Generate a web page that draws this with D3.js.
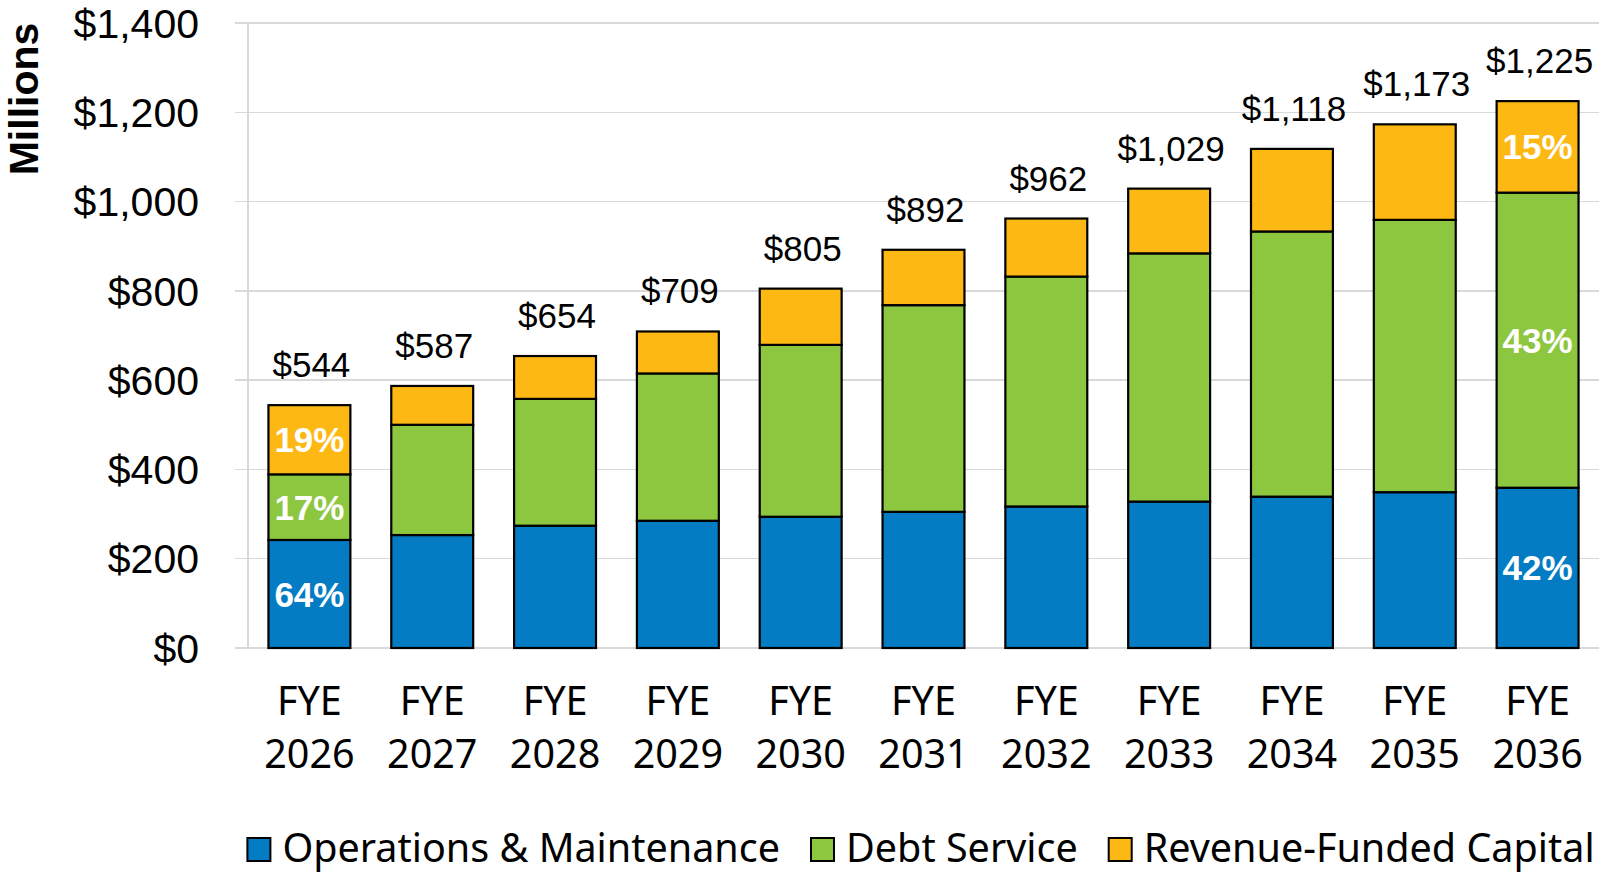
<!DOCTYPE html>
<html lang="en">
<head>
  <meta charset="UTF-8">
  <title>Stacked Revenue Requirement</title>
  <script src="https://d3js.org/d3.v7.min.js"></script>
  <style>
    body {
      margin: 0;
      background-color: #fff;
    }
    .grid line {
      stroke: #d9d9d9;
      stroke-width: 1.5px;
      shape-rendering: crispEdges;
    }
    .ytick {
      font-family: "Liberation Sans", Arial, sans-serif;
      font-size: 41px;
      fill: #000;
    }
    .xtick {
      font-family: "Noto Sans", sans-serif;
      font-size: 39.5px;
      fill: #000;
    }
    .total {
      font-family: "Liberation Sans", Arial, sans-serif;
      font-size: 35px;
      fill: #000;
    }
    .pct {
      font-family: "Liberation Sans", Arial, sans-serif;
      font-size: 35px;
      font-weight: bold;
      fill: #fff;
    }
    .legend text {
      font-family: "Noto Sans", sans-serif;
      font-size: 39.5px;
      fill: #000;
    }
  </style>
</head>
<body>
  <svg width="1606" height="876"></svg>

  <script>
    const years = ["2026", "2027", "2028", "2029", "2030", "2031", "2032", "2033", "2034", "2035", "2036"];
    const seriesNames = ["Operations & Maintenance", "Debt Service", "Revenue-Funded Capital"];
    const operations = [242, 253, 274, 285, 294, 305, 317, 328, 339, 349, 359];
    const debtService = [147, 247, 284, 330, 385, 463, 515, 556, 594, 610, 661];
    const revenueCapital = [155, 87, 96, 94, 126, 124, 130, 145, 185, 214, 205];
    const totalLabels = ["$544", "$587", "$654", "$709", "$805", "$892", "$962", "$1,029", "$1,118", "$1,173", "$1,225"];
    // share labels shown only on the first and last bars
    const shareLabels = {
      "2026": ["64%", "17%", "19%"],
      "2036": ["42%", "43%", "15%"]
    };
    const yTicks = [0, 200, 400, 600, 800, 1000, 1200, 1400];
    const colors = ["#047cc3", "#8dc63f", "#fdb813"];

    const svg = d3.select("svg");
    const plot = {left: 248, right: 1599, top: 23, bottom: 648};

    const x = d3.scaleBand()
      .domain(years)
      .range([plot.left, plot.right])
      .paddingInner(0.333)
      .paddingOuter(0.1665);

    const y = d3.scaleLinear()
      .domain([0, 1400])
      .range([plot.bottom, plot.top]);

    // Gridlines
    const grid = svg.append("g").attr("class", "grid");
    grid.selectAll("line.h")
      .data(yTicks)
      .enter()
      .append("line")
      .attr("x1", plot.left - 13)
      .attr("x2", plot.right)
      .attr("y1", d => y(d))
      .attr("y2", d => y(d));
    grid.append("line")
      .attr("x1", plot.left).attr("x2", plot.left)
      .attr("y1", y(1400)).attr("y2", y(0));

    // Y tick labels
    svg.append("g")
      .selectAll("text")
      .data(yTicks)
      .enter()
      .append("text")
      .attr("class", "ytick")
      .attr("x", 199)
      .attr("y", d => y(d))
      .attr("dy", "0.36em")
      .attr("text-anchor", "end")
      .text(d => "$" + d3.format(",")(d));

    // Y axis title
    svg.append("text")
      .attr("transform", "translate(38,99) rotate(-90)")
      .attr("text-anchor", "middle")
      .style("font-family", "'Liberation Sans', Arial, sans-serif")
      .style("font-size", "41px")
      .style("font-weight", "bold")
      .text("Millions");

    // Stack data
    const rows = years.map((yr, i) => ({
      year: yr,
      s0: operations[i],
      s1: debtService[i],
      s2: revenueCapital[i]
    }));
    const stack = d3.stack().keys(["s0", "s1", "s2"]);
    const layers = stack(rows);

    const bars = svg.append("g");
    layers.forEach((layer, k) => {
      bars.selectAll(".seg" + k)
        .data(layer)
        .enter()
        .append("rect")
        .attr("x", d => x(d.data.year))
        .attr("width", x.bandwidth())
        .attr("y", d => y(d[1]))
        .attr("height", d => y(d[0]) - y(d[1]))
        .attr("fill", colors[k])
        .attr("stroke", "#000")
        .attr("stroke-width", 2.2);
    });

    // Percent labels
    layers.forEach((layer, k) => {
      layer.forEach(d => {
        const labels = shareLabels[d.data.year];
        if (!labels) return;
        svg.append("text")
          .attr("class", "pct")
          .attr("x", x(d.data.year) + x.bandwidth() / 2)
          .attr("y", (y(d[0]) + y(d[1])) / 2)
          .attr("dy", "0.36em")
          .attr("text-anchor", "middle")
          .text(labels[k]);
      });
    });

    // Totals above bars
    const topLayer = layers[layers.length - 1];
    svg.append("g")
      .selectAll("text")
      .data(topLayer)
      .enter()
      .append("text")
      .attr("class", "total")
      .attr("x", d => x(d.data.year) + x.bandwidth() / 2 + 2)
      .attr("y", d => y(d[1]) - 28)
      .attr("text-anchor", "middle")
      .text((d, i) => totalLabels[i]);

    // X labels
    const xl = svg.append("g");
    years.forEach(yr => {
      const cx = x(yr) + x.bandwidth() / 2;
      xl.append("text").attr("class", "xtick")
        .attr("x", cx).attr("y", 715)
        .attr("text-anchor", "middle").text("FYE");
      xl.append("text").attr("class", "xtick")
        .attr("x", cx).attr("y", 768)
        .attr("text-anchor", "middle").text(yr);
    });

    // Legend
    const legend = svg.append("g").attr("class", "legend");
    let lx = 0;
    seriesNames.forEach((name, i) => {
      const item = legend.append("g").attr("transform", `translate(${lx},0)`);
      item.append("rect")
        .attr("x", 0).attr("y", 838)
        .attr("width", 23).attr("height", 23)
        .attr("fill", colors[i])
        .attr("stroke", "#000")
        .attr("stroke-width", 2);
      const t = item.append("text")
        .attr("x", 35).attr("y", 862)
        .text(name);
      lx += 35 + t.node().getComputedTextLength() + 31;
    });
    const legendWidth = lx - 31;
    legend.attr("transform", `translate(${921 - legendWidth / 2},0)`);
  </script>
</body>
</html>
